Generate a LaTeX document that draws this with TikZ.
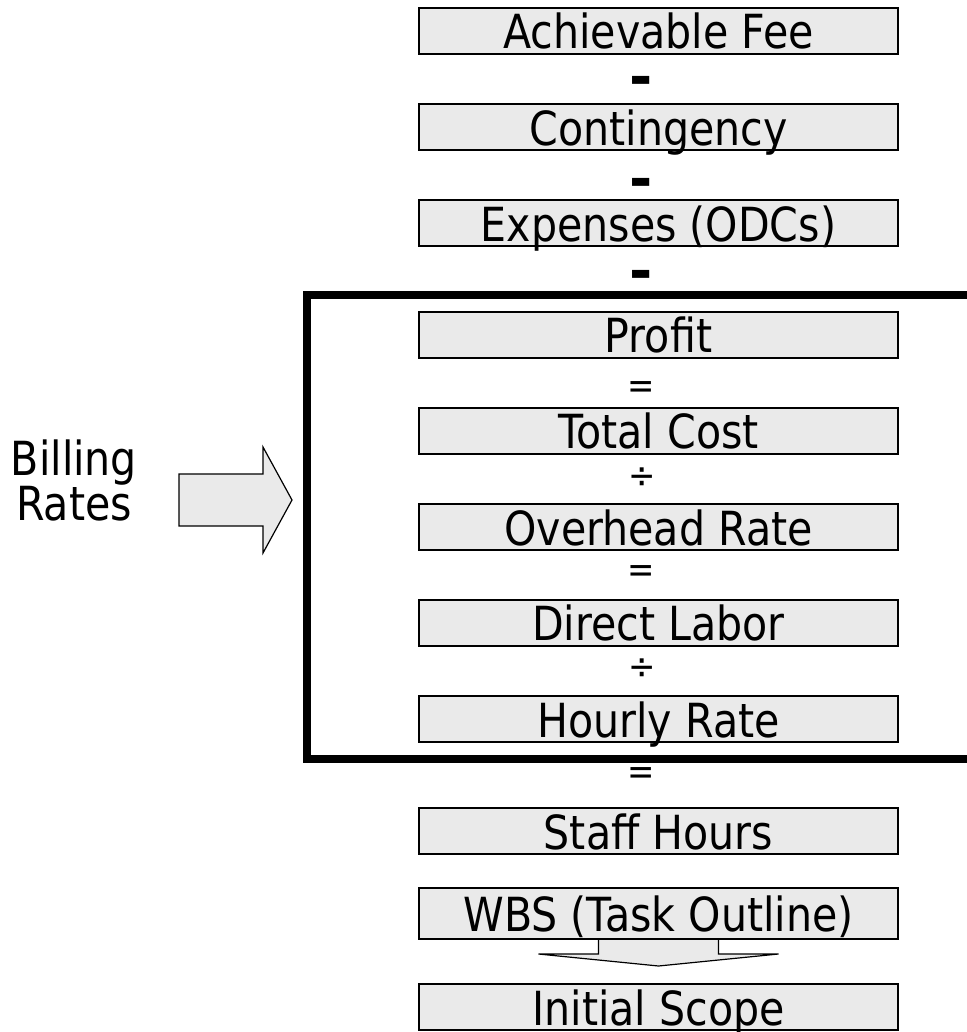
\documentclass[tikz,border=0pt]{standalone}
\usepackage{fontspec}
\setmainfont{DejaVu Sans}[FakeStretch=0.875]
\newfontfamily\opfont{DejaVu Sans}
\usetikzlibrary{calc,backgrounds}
\definecolor{boxfill}{RGB}{234,234,234}
\tikzset{
  px/.style={x=0.75pt,y=-0.75pt},
  stage/.style={draw=black, line width=1.5pt, fill=boxfill,
    minimum width=359.25pt, minimum height=34.5pt, inner sep=0pt,
    text height=27pt, text depth=0pt,
    font=\fontsize{35.25pt}{42pt}\selectfont},
  op/.style={inner sep=0pt, font=\fontsize{28pt}{30pt}\selectfont},
  minusop/.style={inner sep=0pt, font=\opfont\bfseries\fontsize{42pt}{42pt}\selectfont},
  blockarrow/.style={draw=black, line width=0.9pt, fill=boxfill, line join=miter},
  bracket/.style={line width=6pt, line cap=butt, line join=miter},
  sidelabel/.style={inner sep=0pt, align=center,
    font=\fontsize{35.25pt}{33.75pt}\selectfont},
}
\begin{document}
\begin{tikzpicture}[px]
\useasboundingbox (0,0) rectangle (967,1032);

% stages of the fee build-up, top to bottom
\node[stage] (fee)    at (658.5,30.5)  {Achievable Fee};
\node[minusop] (m1)   at (641,86)      {-};
\node[stage] (cont)   at (658.5,127)   {Contingency};
\node[minusop] (m2)   at (641,188)     {-};
\node[stage] (exp)    at (658.5,223)   {Expenses (ODCs)};
\node[minusop] (m3)   at (641,280)     {-};
\node[stage] (profit) at (658.5,334.5) {Profit};
\node[op] (e1)        at (641,390)     {=};
\node[stage] (cost)   at (658.5,430.5) {Total Cost};
\node[op] (d1)        at (642,478)     {÷};
\node[stage] (oh)     at (658.5,527)   {Overhead Rate};
\node[op] (e2)        at (641,574)     {=};
\node[stage] (dl)     at (658.5,622.5) {Direct Labor};
\node[op] (d2)        at (642,669)     {÷};
\node[stage] (hr)     at (658.5,719)   {Hourly Rate};
\node[op] (e3)        at (641,776)     {=};
\node[stage] (sh)     at (658.5,831)   {Staff Hours};
\node[stage, minimum height=38.25pt] (wbs) at (658.5,913.5) {WBS (Task Outline)};
\node[stage] (scope)  at (658.5,1007)  {Initial Scope};

% block arrow from the scope up to the task outline, tucked behind the box
\begin{pgfonlayer}{background}
\draw[blockarrow]
  ($(wbs.south)+(-60,-19)$) -- ($(wbs.south)+(-60,14)$)
  -- ($(wbs.south)+(-120,14)$) -- ($(scope.north)+(0,-17)$)
  -- ($(wbs.south)+(120,14)$) -- ($(wbs.south)+(60,14)$)
  -- ($(wbs.south)+(60,-19)$) -- cycle;
\end{pgfonlayer}

% bracket round the billing-rate stages
\begin{scope}
\clip (0,0) rectangle (967,1032);
\draw[bracket] (995,295) -- (307,295) -- (307,759) -- (995,759);
\end{scope}

% side label and its arrow
\node[sidelabel] (billing) at (74,480) {Billing\\Rates};
\draw[blockarrow] (179,474) -- (263,474) -- (263,447) -- (292,500)
  -- (263,553) -- (263,526) -- (179,526) -- cycle;
\end{tikzpicture}
\end{document}
